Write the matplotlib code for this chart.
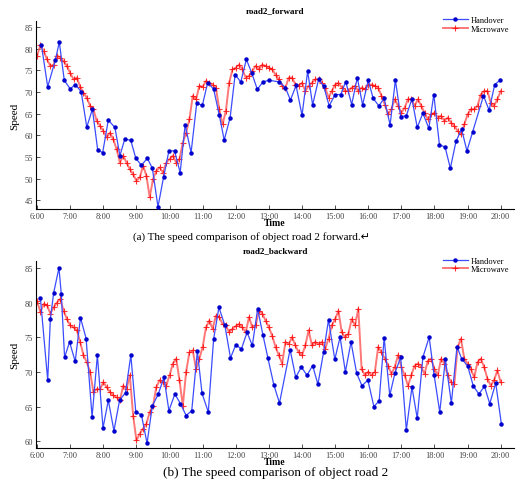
import numpy as np
import matplotlib
matplotlib.use("Agg")
import matplotlib.pyplot as plt

plt.rcParams['font.family'] = ['Liberation Serif', 'DejaVu Sans']

# ---- road2 forward ----
fwd_hand_t = [6.13, 6.32, 6.55, 6.67, 6.82, 7.0, 7.15, 7.33, 7.5, 7.67, 7.83, 7.98, 8.15, 8.35,
              8.5, 8.65, 8.83, 8.98, 9.15, 9.33, 9.48, 9.65, 9.82, 9.98, 10.15, 10.32, 10.47,
              10.65, 10.82, 10.99, 11.15, 11.33, 11.5, 11.65, 11.83, 11.98, 12.15, 12.32, 12.48,
              12.65, 12.82, 13.0, 13.32, 13.5, 13.65, 13.82, 14.0, 14.17, 14.32, 14.5, 14.65,
              14.82, 15.0, 15.17, 15.32, 15.5, 15.67, 15.83, 16.0, 16.15, 16.32, 16.48, 16.66,
              16.82, 16.98, 17.15, 17.32, 17.48, 17.65, 17.83, 17.98, 18.15, 18.32, 18.48, 18.65,
              18.82, 18.98, 19.15, 19.48, 19.65, 19.82, 19.98]
fwd_hand_v = [80.8, 71.2, 77.3, 81.5, 72.7, 70.7, 71.7, 70.1, 61.9, 66.0, 56.6, 56.0, 63.5, 61.8,
              55.3, 59.2, 58.8, 54.7, 53.1, 54.7, 52.4, 43.5, 50.4, 56.4, 56.4, 51.4, 62.4,
              56.0, 67.4, 66.9, 72.1, 70.7, 64.7, 58.9, 64.1, 74.0, 72.3, 77.5, 74.4,
              70.6, 72.3, 72.7, 72.3, 71.0, 68.1, 71.5, 64.6, 74.8, 67.0, 72.9, 71.4,
              66.8, 69.4, 69.4, 72.4, 67.1, 73.3, 67.0, 72.7, 68.5, 66.8, 68.5, 62.4,
              72.7, 64.3, 64.5, 68.4, 61.8, 65.1, 61.6, 69.4, 57.8, 57.3, 52.4, 58.6,
              61.4, 56.4, 60.7, 69.1, 65.8, 71.7, 72.7]

micro_t = np.round(np.arange(6.0, 20.01, 0.1), 2)
fwd_micro_v = [78.4, 80.8, 79.4, 77.5, 76.0, 76.3, 78.4, 77.9, 77.1, 76.0,
               74.3, 72.9, 73.3, 71.2, 69.8, 68.7, 66.8, 66.0, 63.3, 62.2,
               61.0, 59.5, 60.6, 59.1, 56.8, 53.7, 55.3, 53.7, 52.2, 51.0,
               49.5, 50.3, 53.0, 50.7, 45.7, 49.9, 51.8, 52.6, 51.4, 53.7,
               54.5, 55.3, 53.7, 54.5, 58.3, 60.6, 63.7, 69.1, 68.3, 71.4,
               71.2, 72.5, 72.1, 71.7, 71.0, 66.0, 62.5, 65.6, 72.1, 75.2,
               75.6, 76.3, 75.2, 73.3, 73.7, 74.8, 76.0, 75.2, 76.3, 76.0,
               75.6, 75.2, 74.0, 72.9, 71.4, 71.0, 73.3, 73.3, 71.7, 71.4,
               72.1, 70.2, 71.4, 72.1, 72.9, 72.9, 72.1, 71.0, 68.7, 70.2,
               71.7, 72.1, 71.0, 70.2, 70.2, 71.0, 71.4, 70.2, 71.0, 70.6,
               71.7, 71.7, 71.4, 71.0, 69.1, 67.1, 64.8, 66.0, 68.3, 66.8,
               65.2, 66.4, 68.3, 68.3, 66.8, 68.3, 66.8, 65.2, 63.7, 64.8,
               65.2, 64.1, 64.5, 63.3, 64.1, 62.9, 62.2, 61.0, 60.2, 62.5,
               64.8, 66.0, 66.0, 66.8, 69.4, 70.2, 70.2, 67.5, 66.8, 68.3,
               70.2]

# ---- road2 backward ----
bwd_hand_t = [6.1, 6.32, 6.4, 6.5, 6.66, 6.73, 6.83, 6.98, 7.15, 7.31, 7.48, 7.66, 7.82, 7.99,
              8.15, 8.32, 8.49, 8.67, 8.83, 8.98, 9.15, 9.32, 9.48, 9.66, 9.83, 9.98, 10.16,
              10.33, 10.5, 10.67, 10.84, 10.98, 11.17, 11.33, 11.49, 11.67, 11.84, 12.0, 12.17,
              12.34, 12.5, 12.66, 12.82, 12.97, 13.15, 13.32, 13.64, 13.81, 13.98, 14.15,
              14.32, 14.48, 14.65, 14.8, 14.99, 15.15, 15.31, 15.48, 15.65, 15.81, 15.99,
              16.17, 16.33, 16.48, 16.65, 16.81, 16.98, 17.15, 17.32, 17.48, 17.65, 17.84,
              17.99, 18.16, 18.33, 18.51, 18.68, 18.83, 19.0, 19.17, 19.34, 19.51, 19.67,
              19.85, 20.02]
bwd_hand_v = [80.6, 68.8, 77.6, 81.4, 85.0, 81.2, 72.1, 74.3, 71.5, 77.8, 74.8, 63.5, 72.4, 61.9,
              65.9, 61.5, 65.9, 67.0, 72.4, 64.2, 63.8, 59.7, 65.1, 66.8, 69.2, 64.4, 66.8,
              65.4, 63.7, 64.4, 73.0, 66.9, 64.2, 74.7, 79.3, 76.7, 72.0, 73.9, 73.3,
              75.7, 73.8, 79.1, 75.3, 72.0, 68.1, 65.5, 73.2, 69.2, 70.7, 69.5,
              70.9, 68.2, 72.8, 77.5, 71.8, 75.0, 70.0, 74.3, 69.8, 68.0, 68.8,
              65.0, 65.8, 74.9, 66.6, 69.9, 72.1, 61.6, 67.8, 63.3, 72.1, 75.0,
              69.5, 64.2, 71.8, 65.5, 73.6, 71.8, 70.9, 68.0, 66.8, 67.9, 65.4,
              68.4, 62.5]
bwd_micro_v = [80.2, 78.6, 79.8, 79.6, 78.4, 79.3, 80.0, 80.5, 78.8, 77.6,
               76.7, 76.4, 76.0, 74.3, 72.4, 71.4, 70.0, 67.1, 67.5, 67.5,
               68.5, 67.8, 67.1, 66.6, 66.3, 65.9, 68.0, 67.5, 69.5, 63.7,
               60.1, 61.1, 61.8, 62.5, 64.2, 65.1, 67.8, 68.8, 68.5, 68.0,
               69.5, 71.2, 71.9, 68.8, 65.1, 70.0, 72.8, 73.1, 70.4, 71.9,
               73.6, 76.4, 77.4, 76.2, 78.1, 77.9, 76.9, 76.7, 75.7, 76.2,
               76.6, 76.9, 76.4, 75.7, 77.9, 76.4, 76.7, 78.8, 78.4, 77.4,
               76.4, 75.2, 73.6, 72.4, 71.2, 74.3, 74.0, 75.0, 73.8, 72.8,
               72.4, 73.8, 76.0, 73.8, 74.3, 74.0, 74.3, 73.3, 74.8, 76.7,
               77.6, 78.8, 75.7, 75.0, 75.5, 77.6, 76.7, 79.1, 70.4, 69.5,
               70.0, 69.5, 70.0, 73.6, 72.8, 71.9, 70.9, 69.7, 70.7, 72.4,
               70.7, 69.5, 68.0, 69.5, 70.9, 71.2, 70.7, 69.7, 71.6, 71.9,
               70.4, 69.5, 71.9, 71.2, 69.5, 68.5, 68.3, 73.6, 74.8, 71.9,
               71.2, 70.4, 69.2, 71.4, 71.9, 70.7, 69.0, 68.0, 68.8, 70.2,
               68.5]

hours = list(range(6, 21))
hour_labels = ['%d:00' % h for h in hours]


def draw(ax, ht, hv, mv, title, yticks, ylim):
    ax.plot(micro_t, mv, color='#ff5555', lw=1.4, alpha=0.8, marker='+', ms=5,
            mec='red', mew=0.8, label='Microwave', zorder=2)
    ax.plot(ht, hv, color='#3b4cff', lw=0.9, marker='o', ms=2.2, mfc='#0000cc',
            mec='#0000cc', label='Handover', zorder=3)
    ax.set_xlim(5.97, 20.4)
    ax.set_ylim(*ylim)
    ax.set_xticks(hours)
    ax.set_xticklabels(hour_labels)
    ax.set_yticks(yticks)
    ax.tick_params(direction='in', labelsize=6, length=3, width=0.6, colors='#333333',
                   labelcolor='#444444', pad=2)
    for s in ['top', 'right']:
        ax.spines[s].set_visible(False)
    for s in ['left', 'bottom']:
        ax.spines[s].set_linewidth(0.8)
    ax.set_title(title, fontsize=6.5, fontweight='bold', pad=6)
    ax.set_ylabel('Speed', fontsize=8, labelpad=4)
    ax.set_xlabel('Time', fontsize=7, fontweight='bold', labelpad=-1)
    h, l = ax.get_legend_handles_labels()
    ax.legend(h[::-1], l[::-1], loc='upper right', bbox_to_anchor=(1.0, 1.05),
              frameon=False, fontsize=6, handlelength=3, labelspacing=0.1,
              borderaxespad=0.2, handletextpad=0.3)


fig = plt.figure(figsize=(5.16, 4.85), dpi=100)
ax1 = fig.add_axes([0.070, 0.567, 0.926, 0.388])
draw(ax1, fwd_hand_t, fwd_hand_v, fwd_micro_v, 'road2_forward', [45, 50, 55, 60, 65, 70, 75, 80, 85], (43, 86.4))
ax2 = fig.add_axes([0.070, 0.074, 0.926, 0.386])
draw(ax2, bwd_hand_t, bwd_hand_v, bwd_micro_v, 'road2_backward', [60, 65, 70, 75, 80, 85], (59, 86))

fig.text(0.258, 1 - 237 / 485, '(a) The speed comparison of object road 2 forward.\u21b5',
         fontsize=8, ha='left', va='center')
fig.text(0.316, 1 - 473 / 485, '(b) The speed comparison of object road 2',
         fontsize=9.5, ha='left', va='center')

fig.savefig('out.png', dpi=100)
